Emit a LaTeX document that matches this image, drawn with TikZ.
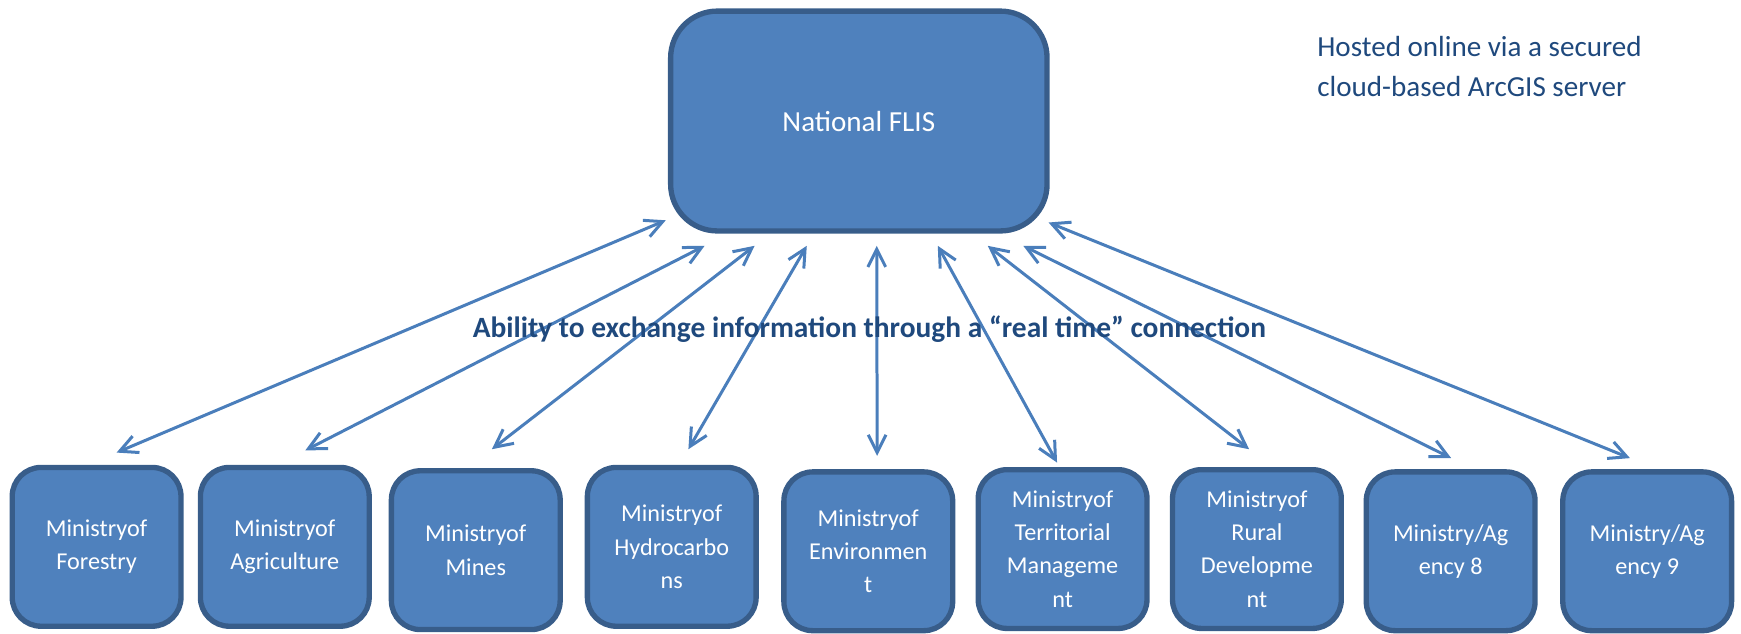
\documentclass[tikz,border=0pt]{standalone}
\usepackage{fontspec}
\setmainfont{Carlito}
\usetikzlibrary{arrows.meta}
\definecolor{boxfill}{HTML}{4F81BD}
\definecolor{boxline}{HTML}{385D8A}
\definecolor{arrowblue}{HTML}{4A7EBB}
\definecolor{darktext}{HTML}{1F497D}
\tikzset{
  ministry/.style={draw=boxline, fill=boxfill, line width=2.4pt, rounded corners=13pt,
    minimum width=76pt, minimum height=71.5pt, inner sep=0pt, align=center, text=white,
    font=\fontsize{10.9}{15}\selectfont},
  mainbox/.style={draw=boxline, fill=boxfill, line width=2.4pt, rounded corners=21pt,
    minimum width=169.5pt, minimum height=99pt, inner sep=0pt, text=white,
    font=\fontsize{13.1}{18.3}\selectfont},
  link/.style={draw=arrowblue, line width=1.35pt,
    {Straight Barb[length=8pt,width=8pt]}-{Straight Barb[length=8pt,width=8pt]}},
  note/.style={text=darktext, inner sep=0pt, font=\fontsize{13.1}{18.3}\selectfont}
}
\begin{document}
\begin{tikzpicture}[x=0.5pt,y=-0.5pt]
\useasboundingbox (0,0) rectangle (1568,571);
\node[mainbox] (flis) at (773.5,109) {National FLIS};
\node[note, anchor=north west, align=left] (host) at (1186,32) {Hosted online via a secured\\cloud-based ArcGIS server};

\node[ministry] (m1) at (87,492.5) {Ministryof\\Forestry};
\node[ministry] (m2) at (256.5,492.5) {Ministryof\\Agriculture};
\node[ministry] (m3) at (428.5,495.5) {Ministryof\\Mines};
\node[ministry] (m4) at (605,492.5) {Ministryof\\Hydrocarbo\\ns};
\node[ministry] (m5) at (782,496.5) {Ministryof\\Environmen\\t};
\node[ministry] (m6) at (957,494.5) {Ministryof\\Territorial\\Manageme\\nt};
\node[ministry] (m7) at (1132,494.5) {Ministryof\\Rural\\Developme\\nt};
\node[ministry] (m8) at (1306.5,496.5) {Ministry/Ag\\ency 8};
\node[ministry] (m9) at (1483.5,496.5) {Ministry/Ag\\ency 9};

\coordinate (f1) at ([shift={(-2,-12)}]flis.south west);
\coordinate (f2) at ([shift={(33,11)}]flis.south west);
\coordinate (f3) at ([shift={(78,11)}]flis.south west);
\coordinate (f4) at ([shift={(125,11)}]flis.south west);
\coordinate (f5) at ([shift={(188,11)}]flis.south west);
\coordinate (f6) at ([shift={(243,11)}]flis.south west);
\coordinate (f7) at ([shift={(288,11)}]flis.south west);
\coordinate (f8) at ([shift={(320,11)}]flis.south west);
\coordinate (f9) at ([shift={(-1,-10)}]flis.south east);

\coordinate (b1) at ([shift={(18,-11)}]m1.north);
\coordinate (b2) at ([shift={(18.5,-13)}]m2.north);
\coordinate (b3) at ([shift={(14.5,-17)}]m3.north);
\coordinate (b4) at ([shift={(15,-14)}]m4.north);
\coordinate (b5) at ([shift={(8,-12)}]m5.north);
\coordinate (b6) at ([shift={(-5,-4)}]m6.north);
\coordinate (b7) at ([shift={(-7,-16)}]m7.north);
\coordinate (b8) at ([shift={(0.5,-10)}]m8.north);
\coordinate (b9) at ([shift={(-15.5,-10)}]m9.north);

\foreach \i in {1,...,9} { \draw[link] (f\i) -- (b\i); }

\node[note, font=\fontsize{13.25}{18.3}\selectfont\bfseries] (lbl) at (783,296)
  {Ability to exchange information through a “real time” connection};
\end{tikzpicture}
\end{document}
